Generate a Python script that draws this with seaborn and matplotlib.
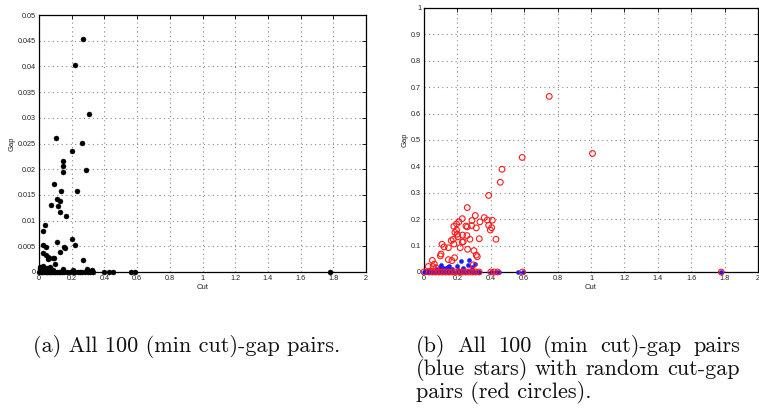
import matplotlib
matplotlib.use("Agg")
import matplotlib.pyplot as plt
import seaborn as sns
import pandas as pd
import numpy as np
from matplotlib.ticker import FuncFormatter, MultipleLocator

# ---- data: (min cut)-gap pairs ----
cut_min = [0.271, 0.222, 0.308, 0.263, 0.104, 0.200, 0.149, 0.145, 0.145, 0.287,
           0.094, 0.137, 0.232, 0.073, 0.112, 0.130, 0.116, 0.128, 0.165, 0.039,
           0.024, 0.204, 0.110, 0.218, 0.022, 0.041, 0.151, 0.159, 0.126, 0.024,
           0.041, 0.053, 0.061, 0.055, 0.094, 0.088, 0.271, 0.098,
           0.006, 0.026, 0.067, 0.004, 0.036, 0.059, 0.088, 0.145, 0.206, 0.296,
           0.322, 0.012, 0.047,
           0.000, 0.010, 0.020, 0.030, 0.040, 0.050, 0.060, 0.070, 0.080, 0.090,
           0.100, 0.110, 0.120, 0.130, 0.140, 0.150, 0.170, 0.190, 0.210, 0.220,
           0.240, 0.250, 0.260, 0.280, 0.300, 0.310, 0.330, 0.400, 0.430, 0.450,
           0.560, 0.590, 1.780]
gap_min = [0.0453, 0.0402, 0.0308, 0.0251, 0.0260, 0.0236, 0.0216, 0.0207, 0.0194, 0.0198,
           0.0172, 0.0158, 0.0157, 0.0130, 0.0142, 0.0138, 0.0128, 0.0117, 0.0108, 0.0091,
           0.0079, 0.0065, 0.0058, 0.0052, 0.0052, 0.0049, 0.0048, 0.0047, 0.0039, 0.0037,
           0.0033, 0.0030, 0.0027, 0.0025, 0.0028, 0.0027, 0.0023, 0.0016,
           0.0010, 0.0011, 0.0009, 0.0005, 0.0007, 0.0006, 0.0004, 0.0006, 0.0003, 0.0006,
           0.0003, 0.0004, 0.0008,
           0.0, 0.0, 0.0, 0.0, 0.0, 0.0, 0.0, 0.0, 0.0, 0.0,
           0.0, 0.0, 0.0, 0.0, 0.0, 0.0, 0.0, 0.0, 0.0, 0.0,
           0.0, 0.0, 0.0, 0.0, 0.0, 0.0, 0.0, 0.0, 0.0, 0.0,
           0.0, 0.0, 0.0]

# ---- data: random cut-gap pairs ----
cut_rand = [0.750, 1.009, 0.588, 0.467, 0.457, 0.387, 0.259, 0.361, 0.379, 0.409,
            0.387, 0.405, 0.397, 0.431, 0.331, 0.307, 0.335, 0.287, 0.285, 0.313,
            0.251, 0.259, 0.275, 0.257, 0.231, 0.229, 0.209, 0.195, 0.179, 0.195,
            0.185, 0.199, 0.203, 0.175, 0.163, 0.179, 0.217, 0.229, 0.235, 0.261,
            0.299, 0.313, 0.319, 0.295, 0.108, 0.120, 0.146, 0.102, 0.098, 0.146,
            0.183, 0.167, 0.050, 0.062, 0.054, 0.026, 0.072,
            0.000, 0.030, 0.050, 0.070, 0.090, 0.110, 0.130, 0.150, 0.170, 0.190,
            0.210, 0.230, 0.250, 0.270, 0.290, 0.310, 0.330, 0.400, 0.420, 0.440,
            0.590, 1.780]
gap_rand = [0.665, 0.449, 0.434, 0.389, 0.340, 0.290, 0.244, 0.206, 0.197, 0.196,
            0.177, 0.168, 0.159, 0.124, 0.126, 0.214, 0.190, 0.195, 0.176, 0.167,
            0.174, 0.171, 0.124, 0.138, 0.140, 0.202, 0.190, 0.182, 0.173, 0.159,
            0.150, 0.143, 0.134, 0.124, 0.119, 0.106, 0.092, 0.113, 0.115, 0.086,
            0.081, 0.064, 0.058, 0.027, 0.105, 0.095, 0.092, 0.068, 0.061, 0.047,
            0.054, 0.043, 0.044, 0.030, 0.020, 0.021, 0.016,
            0.0, 0.0, 0.0, 0.0, 0.0, 0.0, 0.0, 0.0, 0.0, 0.0,
            0.0, 0.0, 0.0, 0.0, 0.0, 0.0, 0.0, 0.0, 0.0, 0.0,
            0.0, 0.0]

caption_a = "(a) All 100 (min cut)-gap pairs."
caption_b = ["(b) All 100 (min cut)-gap pairs",
             "(blue stars) with random cut-gap",
             "pairs (red circles)."]

df_min = pd.DataFrame({"Cut": cut_min, "Gap": gap_min})
df_rand = pd.DataFrame({"Cut": cut_rand, "Gap": gap_rand})

sns.set_style("white")
plt.rcParams["font.family"] = ["Liberation Sans", "DejaVu Sans"]

fig = plt.figure(figsize=(7.59, 4.09), dpi=100)
W, H = 759, 409

def ax_rect(x0, y0, x1, y1):
    return [x0 / W, 1 - y1 / H, (x1 - x0) / W, (y1 - y0) / H]

axA = fig.add_axes(ax_rect(39, 15, 366, 272))
axB = fig.add_axes(ax_rect(424, 8, 758, 272))

fmt = FuncFormatter(lambda v, p: "%g" % round(v, 6))

def style(ax, ymax, ystep):
    ax.set_xlim(0, 2)
    ax.set_ylim(0, ymax)
    ax.xaxis.set_major_locator(MultipleLocator(0.2))
    ax.yaxis.set_major_locator(MultipleLocator(ystep))
    ax.xaxis.set_major_formatter(fmt)
    ax.yaxis.set_major_formatter(fmt)
    ax.grid(True, color="#8a8a8a", linestyle=(0, (1.0, 3.0)), linewidth=0.8)
    ax.set_axisbelow(True)
    for s in ax.spines.values():
        s.set_visible(True)
        s.set_color("black")
        s.set_linewidth(0.9)
    ax.tick_params(direction="in", top=True, right=True, length=3, width=0.6,
                   labelsize=5.2, colors="black", labelcolor="#222222", pad=2)
    ax.set_xlabel("Cut", fontsize=5.5, labelpad=1.5, color="#222222")
    ax.set_ylabel("Gap", fontsize=5.5, labelpad=2, color="#222222")

sns.scatterplot(data=df_min, x="Cut", y="Gap", ax=axA, color="black", marker="o",
                s=13, edgecolor="black", linewidth=0.3, zorder=3, clip_on=False)
style(axA, 0.05, 0.005)

sns.scatterplot(data=df_min, x="Cut", y="Gap", ax=axB, color="#1a1aff", marker="o",
                s=9, edgecolor="#1a1aff", linewidth=0.3, zorder=3, clip_on=False)
sns.scatterplot(data=df_rand, x="Cut", y="Gap", ax=axB, marker="o", s=17,
                facecolor="none", edgecolor="#ff1a1a", linewidth=0.8, zorder=4,
                clip_on=False)
style(axB, 1.0, 0.1)

# captions
cap_kw = dict(fontsize=16, family="cmr10", color="#111111")
fig.text(33 / W, 1 - 352 / H, caption_a, va="baseline", ha="left", **cap_kw)

fig.canvas.draw()
renderer = fig.canvas.get_renderer()
left_px, right_px = 416, 740
baselines = [352, 375, 398]
for i, (line, yb) in enumerate(zip(caption_b, baselines)):
    y = 1 - yb / H
    if i == len(caption_b) - 1:
        fig.text(left_px / W, y, line, va="baseline", ha="left", **cap_kw)
        continue
    words = line.split(" ")
    widths = []
    for w in words:
        t = fig.text(0, 0, w, **cap_kw)
        widths.append(t.get_window_extent(renderer).width)
        t.remove()
    gap = (right_px - left_px - sum(widths)) / (len(words) - 1)
    x = left_px
    for w, wd in zip(words, widths):
        fig.text(x / W, y, w, va="baseline", ha="left", **cap_kw)
        x += wd + gap

fig.savefig("out.png", dpi=100)
